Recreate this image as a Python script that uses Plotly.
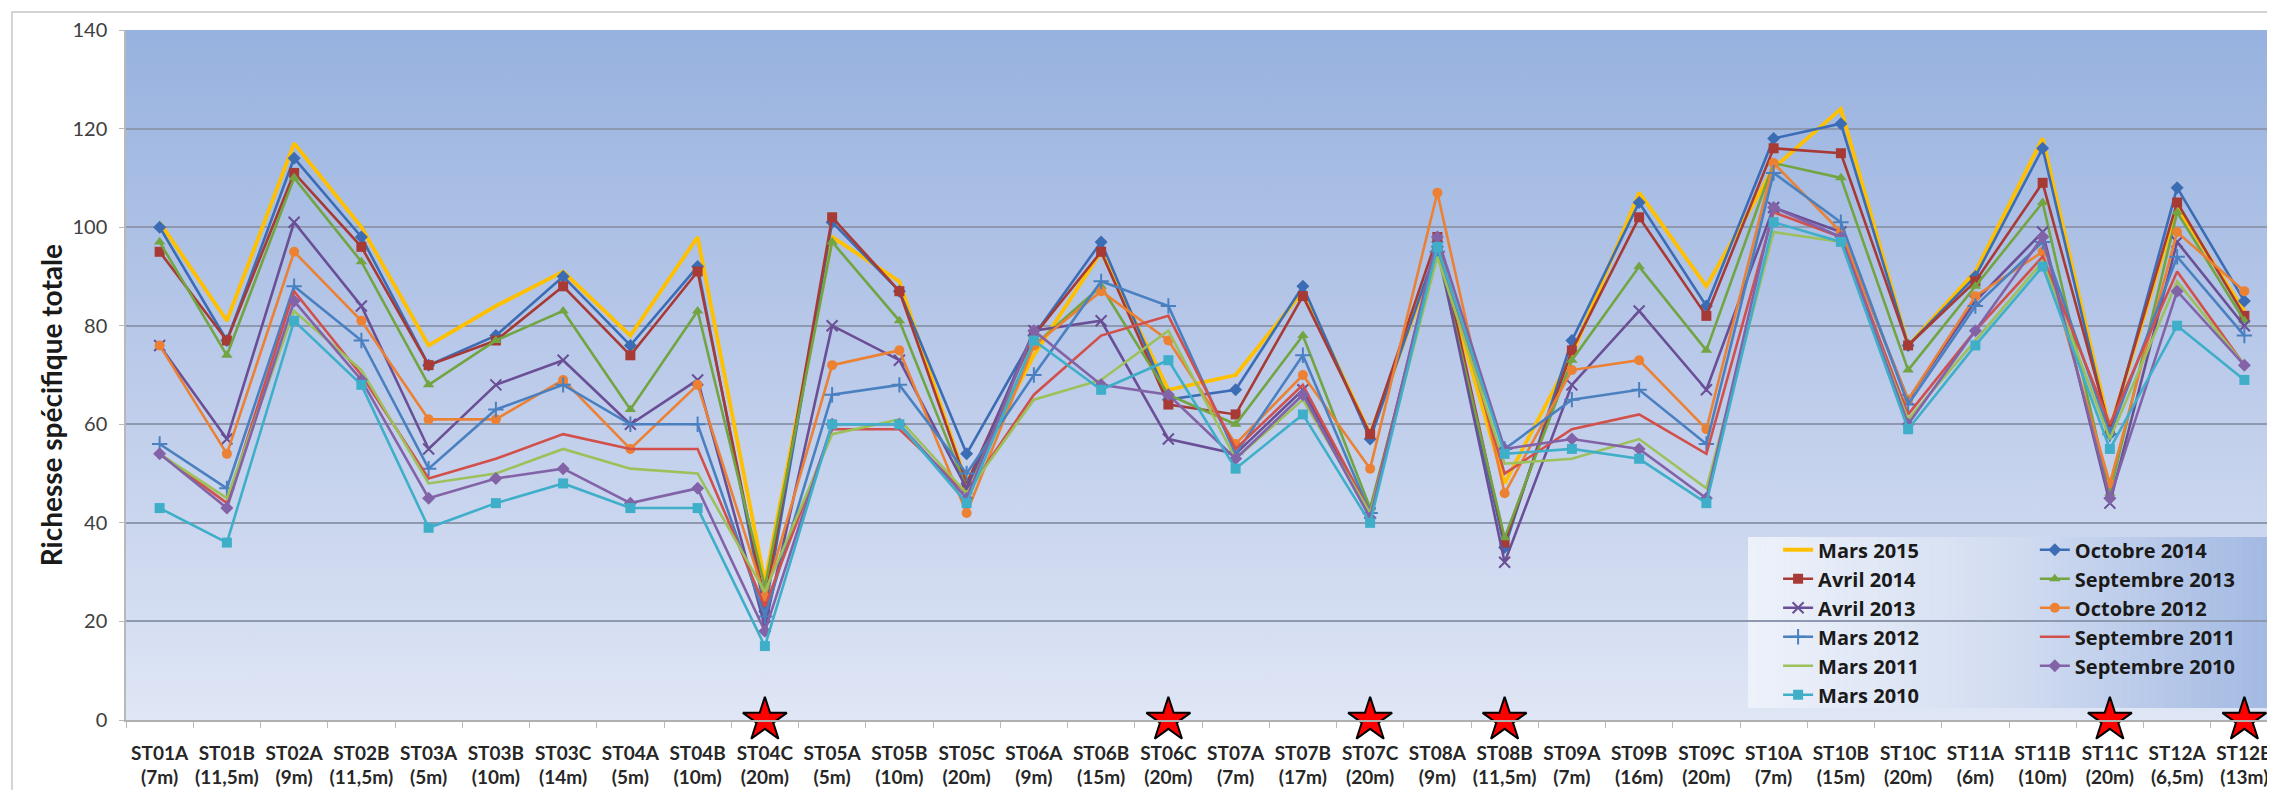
import base64
import plotly.graph_objects as go

stations = ["ST01A", "ST01B", "ST02A", "ST02B", "ST03A", "ST03B", "ST03C", "ST04A",
            "ST04B", "ST04C", "ST05A", "ST05B", "ST05C", "ST06A", "ST06B", "ST06C",
            "ST07A", "ST07B", "ST07C", "ST08A", "ST08B", "ST09A", "ST09B", "ST09C",
            "ST10A", "ST10B", "ST10C", "ST11A", "ST11B", "ST11C", "ST12A", "ST12B"]
depths = ["7m", "11,5m", "9m", "11,5m", "5m", "10m", "14m", "5m", "10m", "20m", "5m",
          "10m", "20m", "9m", "15m", "20m", "7m", "17m", "20m", "9m", "11,5m", "7m",
          "16m", "20m", "7m", "15m", "20m", "6m", "10m", "20m", "6,5m", "13m"]
starred = ["ST04C", "ST06C", "ST07C", "ST08B", "ST11C", "ST12B"]

mars_2015 = [101, 81, 117, 100, 76, 84, 91, 78, 98, 28, 98, 89, 48, 74, 95, 67,
             70, 87, 58, 95, 48, 74, 107, 88, 112, 124, 76, 91, 118, 59, 104, 83]
octobre_2014 = [100, 77, 114, 98, 72, 78, 90, 76, 92, 22, 101, 87, 54, 78, 97, 65,
                67, 88, 57, 96, 35, 77, 105, 84, 118, 121, 76, 90, 116, 58, 108, 85]
avril_2014 = [95, 77, 111, 96, 72, 77, 88, 74, 91, 24, 102, 87, 48, 78, 95, 64,
              62, 86, 58, 98, 36, 75, 102, 82, 116, 115, 76, 89, 109, 59, 105, 82]
septembre_2013 = [97, 74, 110, 93, 68, 77, 83, 63, 83, 27, 97, 81, 47, 76, 88, 66,
                  60, 78, 43, 95, 37, 73, 92, 75, 113, 110, 71, 88, 105, 46, 103, 81]
avril_2013 = [76, 57, 101, 84, 55, 68, 73, 60, 69, 19, 80, 73, 47, 79, 81, 57,
              54, 67, 42, 96, 32, 68, 83, 67, 104, 99, 65, 85, 99, 44, 97, 80]
octobre_2012 = [76, 54, 95, 81, 61, 61, 69, 55, 68, 25, 72, 75, 42, 76, 87, 77,
                56, 70, 51, 107, 46, 71, 73, 59, 113, 99, 65, 86, 95, 48, 99, 87]
mars_2012 = [56, 47, 88, 77, 51, 63, 68, 60, 60, 21, 66, 68, 50, 70, 89, 84,
             54, 74, 42, 95, 55, 65, 67, 56, 111, 101, 64, 84, 97, 58, 94, 78]
septembre_2011 = [54, 44, 87, 70, 49, 53, 58, 55, 55, 23, 59, 59, 46, 66, 78, 82,
                  55, 68, 42, 97, 50, 59, 62, 54, 103, 98, 62, 79, 94, 60, 91, 72]
mars_2011 = [54, 45, 83, 71, 48, 50, 55, 51, 50, 26, 58, 61, 46, 65, 69, 79,
             53, 65, 42, 94, 52, 53, 57, 47, 99, 97, 61, 77, 93, 57, 89, 72]
septembre_2010 = [54, 43, 85, 69, 45, 49, 51, 44, 47, 18, 60, 60, 45, 79, 68, 66,
                  53, 66, 41, 98, 55, 57, 55, 45, 104, 98, 60, 79, 98, 45, 87, 72]
mars_2010 = [43, 36, 81, 68, 39, 44, 48, 43, 43, 15, 60, 60, 44, 77, 67, 73,
             51, 62, 40, 96, 54, 55, 53, 44, 101, 97, 59, 76, 92, 55, 80, 69]

labels = [f"{s}<br>({d})" for s, d in zip(stations, depths)]
label_of = dict(zip(stations, labels))

# name, values, colour, marker symbol, legend column
series = [
    ("Mars 2015", mars_2015, "#FFC000", None, "legend"),
    ("Octobre 2014", octobre_2014, "#3C6DB4", "diamond", "legend2"),
    ("Avril 2014", avril_2014, "#A83A35", "square", "legend"),
    ("Septembre 2013", septembre_2013, "#72A542", "triangle-up", "legend2"),
    ("Avril 2013", avril_2013, "#6A4F96", "x-thin", "legend"),
    ("Octobre 2012", octobre_2012, "#EC8134", "circle", "legend2"),
    ("Mars 2012", mars_2012, "#4A80C0", "cross-thin", "legend"),
    ("Septembre 2011", septembre_2011, "#D2504B", None, "legend2"),
    ("Mars 2011", mars_2011, "#9DC15A", None, "legend"),
    ("Septembre 2010", septembre_2010, "#8363A8", "diamond", "legend2"),
    ("Mars 2010", mars_2010, "#3FAFC9", "square", "legend"),
]


def svg_uri(svg):
    return "data:image/svg+xml;base64," + base64.b64encode(svg.encode()).decode()


def mix(c1, c2, t):
    a = [int(c1[i:i + 2], 16) for i in (1, 3, 5)]
    b = [int(c2[i:i + 2], 16) for i in (1, 3, 5)]
    return "rgb(%d,%d,%d)" % tuple(round(p + (q - p) * t) for p, q in zip(a, b))


plot_bg = svg_uri(
    '<svg xmlns="http://www.w3.org/2000/svg" width="100" height="100">'
    '<defs><linearGradient id="g" x1="0" y1="0" x2="0" y2="1">'
    '<stop offset="0" stop-color="#97B2DF"/><stop offset="0.5" stop-color="#BCCBEA"/>'
    '<stop offset="1" stop-color="#DFE6F5"/></linearGradient></defs>'
    '<rect width="100" height="100" fill="url(#g)"/></svg>'
)

# legend box: horizontal gradient made of thin strips, drawn above the grid, below the traces
box_x0, box_x1, box_y0, box_y1 = 0.7537, 0.9958, 0.0174, 0.2652
n_strips = 60
legend_box = []
for k in range(n_strips):
    t = k / (n_strips - 1)
    col = mix("#EDF1FA", "#D3DDF1", t / 0.5) if t < 0.5 else mix("#D3DDF1", "#A3BAE3", (t - 0.5) / 0.5)
    legend_box.append(dict(
        type="rect", xref="paper", yref="paper", layer="between",
        x0=box_x0 + (box_x1 - box_x0) * k / n_strips,
        x1=box_x0 + (box_x1 - box_x0) * (k + 1.05) / n_strips,
        y0=box_y0, y1=box_y1, fillcolor=col, line=dict(width=0),
    ))

fig = go.Figure()

for name, values, color, symbol, legend in series:
    trace = dict(
        x=labels,
        y=values,
        name=name,
        legend=legend,
        line=dict(color=color, width=3.8 if name == "Mars 2015" else 2.6),
        cliponaxis=False,
    )
    if symbol is None:
        trace["mode"] = "lines"
    else:
        thin = symbol.endswith("-thin")
        trace["mode"] = "lines+markers"
        trace["marker"] = dict(
            symbol=symbol,
            size=11 if thin else 10,
            color=color,
            line=dict(color=color, width=2 if thin else 0),
        )
    fig.add_trace(go.Scatter(**trace))

fig.add_trace(
    go.Scatter(
        x=[label_of[s] for s in starred],
        y=[0] * len(starred),
        mode="markers",
        marker=dict(symbol="star", size=33, color="#FF0000", line=dict(color="#000000", width=2)),
        showlegend=False,
        cliponaxis=False,
        hoverinfo="skip",
    )
)

legend_style = dict(
    bgcolor="rgba(0,0,0,0)",
    font=dict(family="Open Sans", size=20, color="#1A1A1A", weight="bold"),
    yanchor="top",
    xanchor="left",
    tracegroupgap=0,
    itemwidth=30,
)

# the page body adds an 8px offset, so margins are shifted by 8px
fig.update_layout(
    width=2275,
    height=790,
    margin=dict(l=118, r=5, t=22, b=78),
    paper_bgcolor="white",
    plot_bgcolor="rgba(0,0,0,0)",
    font=dict(family="Lato", color="#404040"),
    showlegend=True,
    legend=dict(x=0.7677, y=0.275, **legend_style),
    legend2=dict(x=0.887, y=0.275, **legend_style),
    images=[
        dict(source=plot_bg, xref="paper", yref="paper", x=0, y=1, sizex=1, sizey=1,
             xanchor="left", yanchor="top", sizing="stretch", layer="below"),
    ],
    shapes=[
        dict(type="rect", xref="paper", yref="paper", x0=-0.053, x1=1.01, y0=-0.2,
             y1=1.026, line=dict(color="#D4D4D4", width=2), layer="below"),
    ] + legend_box,
    annotations=[
        dict(text="Richesse spécifique totale", xref="paper", yref="paper",
             x=-0.0349, y=0.456, xanchor="center", yanchor="middle", textangle=-90,
             showarrow=False,
             font=dict(family="Lato", size=28, color="#1A1A1A", weight="bold")),
    ],
    xaxis=dict(
        type="category",
        range=[-0.5, len(labels) - 0.5],
        automargin=False,
        tickson="boundaries",
        ticks="outside",
        ticklen=6,
        tickcolor="#B8B8B8",
        showline=True,
        linecolor="#B0B0B0",
        linewidth=1.5,
        showgrid=False,
        tickangle=0,
        ticklabelstandoff=15,
        tickfont=dict(family="Lato", size=19, color="#262626", weight="bold"),
    ),
    yaxis=dict(
        range=[0, 140],
        dtick=20,
        automargin=False,
        showgrid=True,
        gridcolor="#8E98AE",
        gridwidth=1.5,
        zeroline=False,
        showline=True,
        linecolor="#B8B8B8",
        linewidth=1.5,
        ticks="outside",
        ticklen=5,
        tickcolor="#B8B8B8",
        ticklabelstandoff=8,
        tickfont=dict(family="Lato", size=20, color="#404040"),
    ),
)

fig.write_html("out.html")
